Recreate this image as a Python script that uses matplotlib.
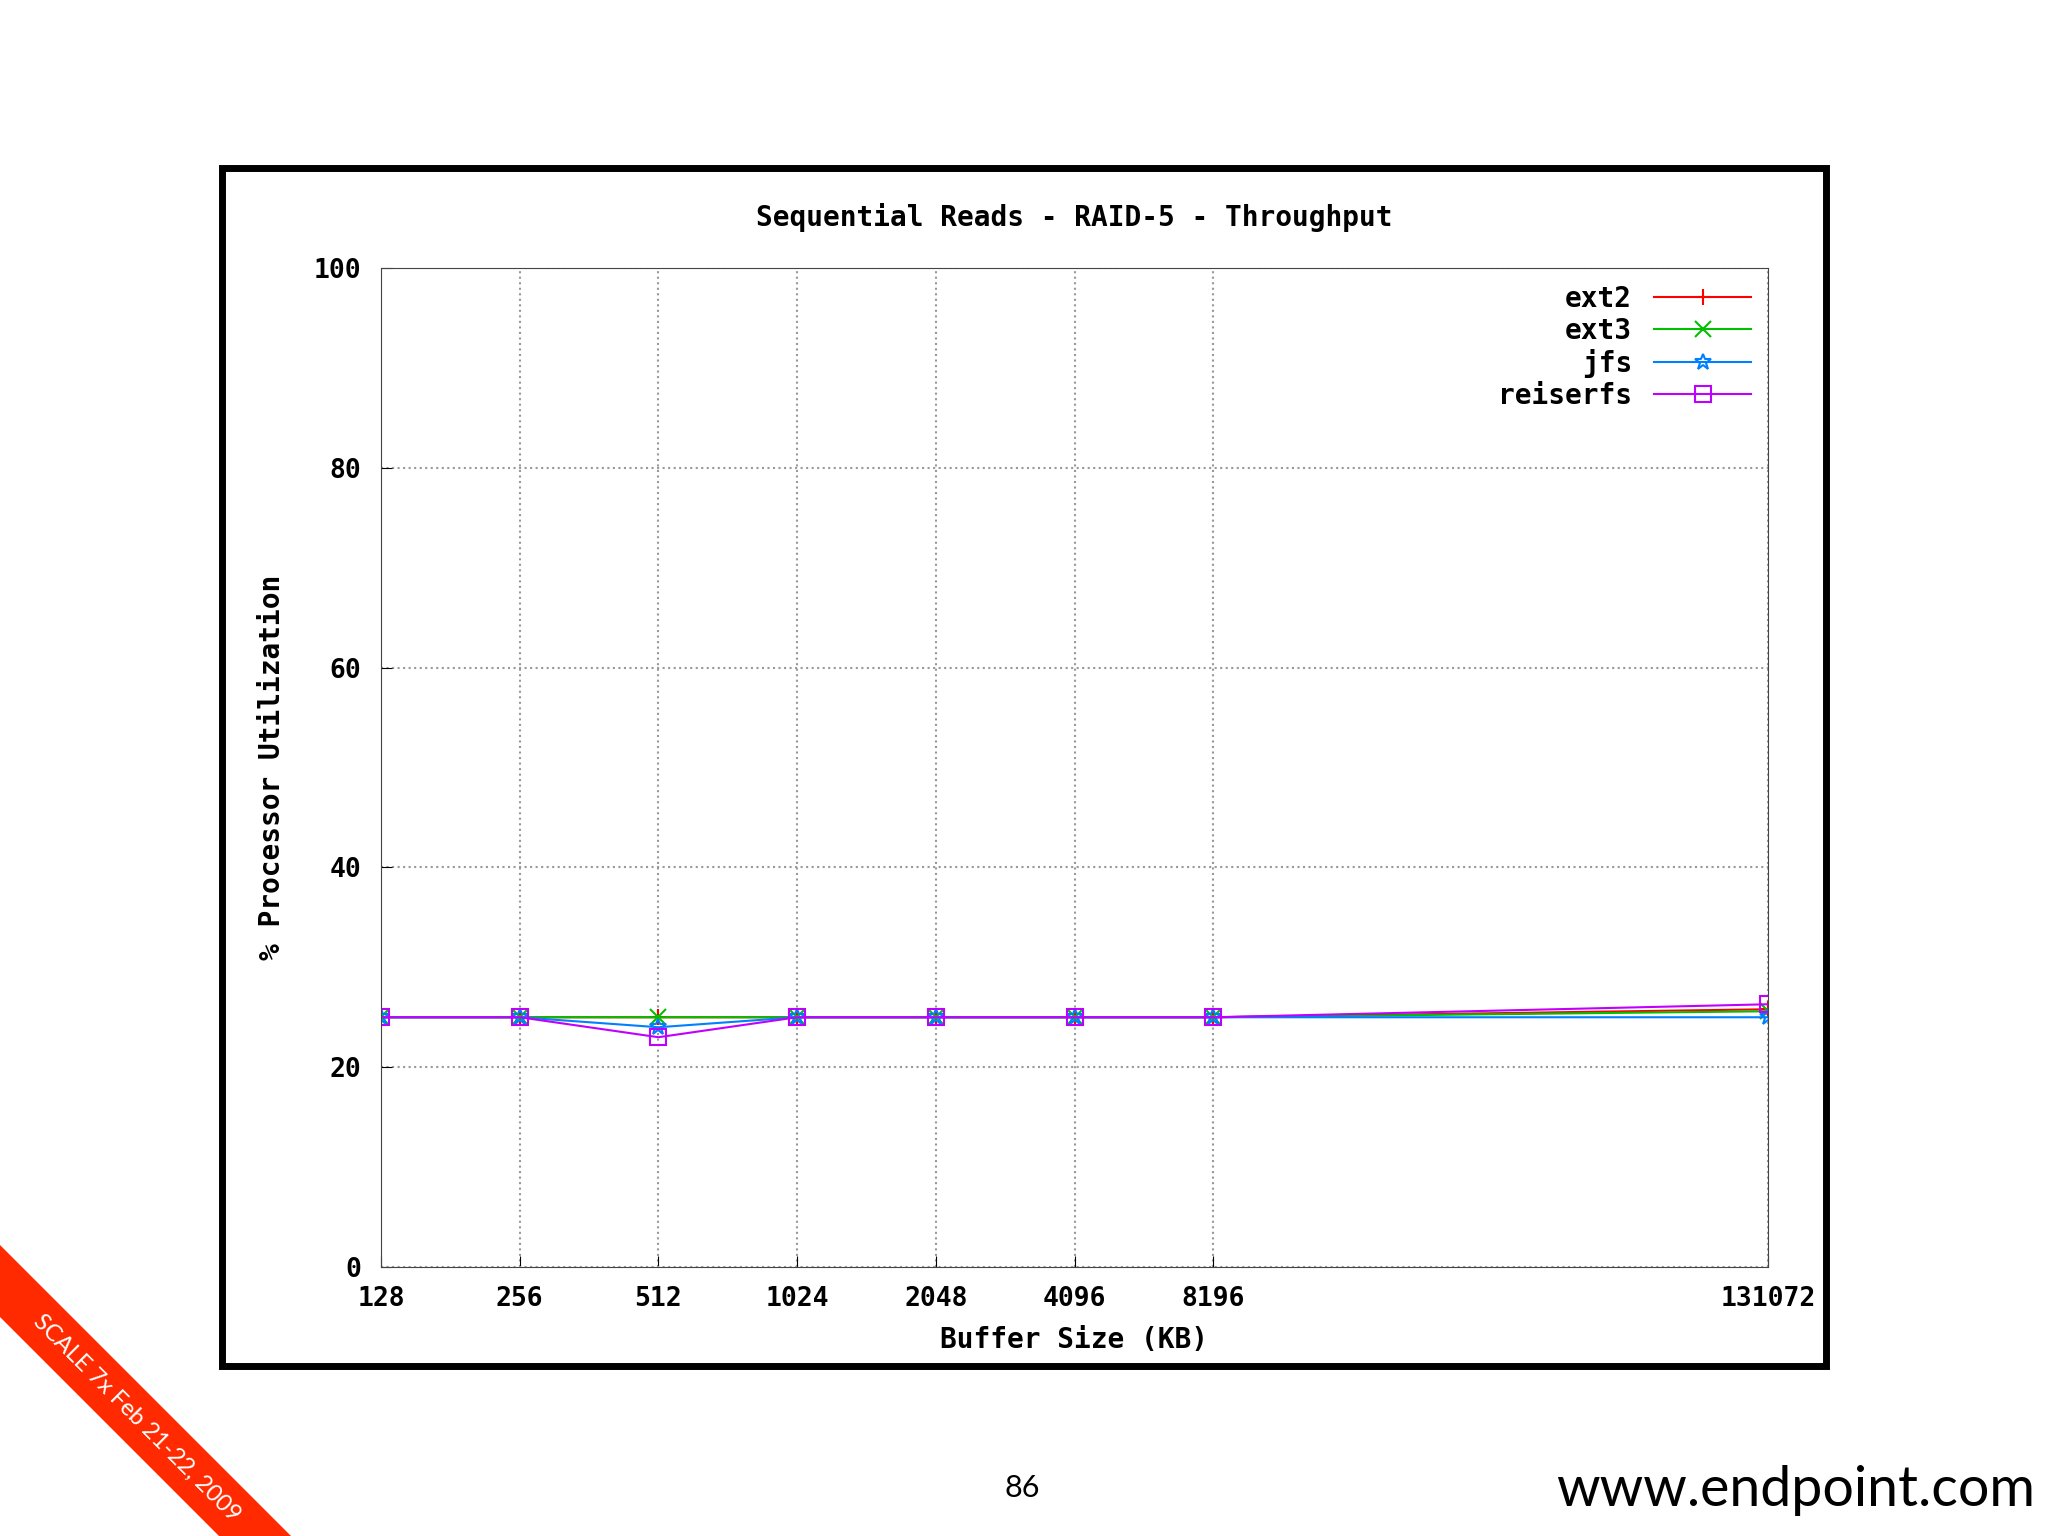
import matplotlib.pyplot as plt
import matplotlib.ticker as ticker
from matplotlib.patches import Polygon, Rectangle

buffer_kb = [128, 256, 512, 1024, 2048, 4096, 8192, 131072]
tick_labels = ["128", "256", "512", "1024", "2048", "4096", "8196", "131072"]
ext2 = [25, 25, 25, 25, 25, 25, 25, 25.8]
ext3 = [25, 25, 25, 25, 25, 25, 25, 25.6]
jfs = [25, 25, 24, 25, 25, 25, 25, 25]
reiserfs = [25, 25, 23, 25, 25, 25, 25, 26.3]

W, H = 2048, 1536
fig = plt.figure(figsize=(20.48, 15.36), dpi=100)
mono = dict(family="DejaVu Sans Mono", weight="bold")

# outer black frame of the screenshot
fig.patches.append(Rectangle((222 / W, 1 - 1366 / H), (1826 - 222) / W, (1366 - 168) / H,
                             transform=fig.transFigure, fill=False, lw=5, ec="black"))

ax = fig.add_axes([381 / W, 1 - 1267 / H, (1768 - 381) / W, (1267 - 268) / H])
series = [("ext2", ext2, "#ff0000", "+"), ("ext3", ext3, "#00c000", "x"),
          ("jfs", jfs, "#0080ff", "*"), ("reiserfs", reiserfs, "#c000ff", "s")]
for name, vals, col, m in series:
    ax.plot(buffer_kb, vals, color=col, marker=m, ms=12, mfc="none", mew=1.5, lw=1.5, label=name)

ax.set_xscale("log", base=2)
ax.set_xlim(128, 131072)
ax.set_ylim(0, 100)
ax.xaxis.set_major_locator(ticker.FixedLocator(buffer_kb))
ax.xaxis.set_major_formatter(ticker.FixedFormatter(tick_labels))
ax.xaxis.set_minor_locator(ticker.NullLocator())
ax.set_yticks(range(0, 101, 20))
ax.grid(True, ls=":", color="#999999", lw=1.5)
ax.tick_params(direction="in", length=8, labelsize=19, pad=14)
for lab in ax.get_xticklabels() + ax.get_yticklabels():
    lab.set_fontfamily("DejaVu Sans Mono")
    lab.set_fontweight("bold")
for s in ax.spines.values():
    s.set_color("#444444")
ax.set_title("Sequential Reads - RAID-5 - Throughput", fontsize=20, pad=30, **mono)
ax.set_xlabel("Buffer Size (KB)", fontsize=20, labelpad=10, **mono)
ax.set_ylabel("% Processor Utilization", fontsize=20, labelpad=20, **mono)
leg = ax.legend(loc="upper right", frameon=False, markerfirst=False, handlelength=3.5,
                prop=dict(family="DejaVu Sans Mono", weight="bold", size=20),
                labelspacing=0.15, borderaxespad=0.2)
for t in leg.get_texts():
    t.set_ha("right")

# corner ribbon
band = [(0, 1245), (291, 1536), (219, 1536), (0, 1317)]
fig.patches.append(Polygon([(x / W, 1 - y / H) for x, y in band], closed=True,
                           transform=fig.transFigure, fc="#ff2a00", ec="none"))
fig.text(137 / W, 1 - 1418 / H, "SCALE 7x Feb 21-22, 2009", rotation=-45, color="white",
         fontsize=17, family="Lato", ha="center", va="center", rotation_mode="anchor")

fig.text(1022 / W, 1 - 1488 / H, "86", fontsize=22, family="Lato", ha="center", va="center")
fig.text(2035 / W, 1 - 1490 / H, "www.endpoint.com", fontsize=40, family="Lato",
         ha="right", va="center")

fig.savefig("out.png", dpi=100)
